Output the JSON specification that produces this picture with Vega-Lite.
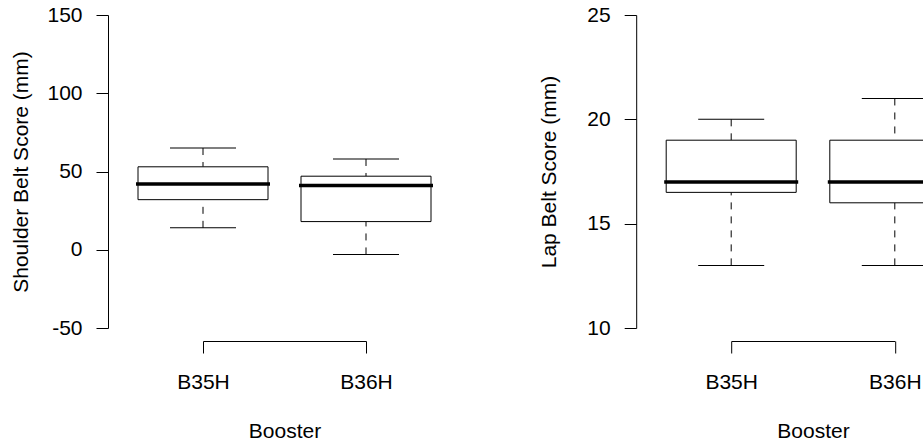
{
  "$schema": "https://vega.github.io/schema/vega-lite/v6.json",
  "padding": {"left": 10, "top": 0, "right": 0, "bottom": 0},
  "bounds": "flush",
  "spacing": 175.2,
  "config": {
    "font": "Liberation Sans",
    "view": {"stroke": null},
    "axis": {
      "grid": false,
      "domainColor": "black",
      "domainWidth": 1,
      "tickColor": "black",
      "tickWidth": 1,
      "tickSize": 12,
      "labelFontSize": 21,
      "titleFontSize": 21,
      "titleFontWeight": "normal",
      "labelColor": "black",
      "titleColor": "black",
      "labelFlush": false,
      "labelOverlap": false
    },
    "axisX": {"labelAngle": 0, "labelPadding": 18, "minExtent": 51, "maxExtent": 51, "titlePadding": 28},
    "axisY": {"labelPadding": 14, "minExtent": 59, "maxExtent": 59, "titlePadding": 18,
              "labelExpr": "replace(datum.label, '\u2212', '-')"}
  },
  "datasets": {
    "shoulder": [
      {"booster": "B35H", "lower": 14, "q1": 32, "median": 42, "q3": 53, "upper": 65},
      {"booster": "B36H", "lower": -3, "q1": 18, "median": 41, "q3": 47, "upper": 58}
    ],
    "lap": [
      {"booster": "B35H", "lower": 13, "q1": 16.5, "median": 17, "q3": 19, "upper": 20},
      {"booster": "B36H", "lower": 13, "q1": 16, "median": 17, "q3": 19, "upper": 21}
    ]
  },
  "hconcat": [
    {
      "width": 352.5,
      "height": 341,
      "data": {"name": "shoulder"},
      "encoding": {
        "x": {"field": "booster", "type": "nominal", "title": "Booster",
              "scale": {"type": "point", "range": [95, 258], "padding": 0}}
      },
      "layer": [
        {"mark": {"type": "rule", "color": "black", "strokeWidth": 1, "strokeDash": [7, 7]},
         "encoding": {
           "y": {"field": "lower", "type": "quantitative", "title": "Shoulder Belt Score (mm)",
                 "scale": {"domain": [-50, 150], "range": [328, 15], "nice": false, "zero": false},
                 "axis": {"values": [-50, 0, 50, 100, 150]}},
           "y2": {"field": "q1"}}},
        {"mark": {"type": "rule", "color": "black", "strokeWidth": 1, "strokeDash": [7, 7]},
         "encoding": {
           "y": {"field": "upper", "type": "quantitative", "title": "Shoulder Belt Score (mm)",
                 "scale": {"domain": [-50, 150], "range": [328, 15], "nice": false, "zero": false}},
           "y2": {"field": "q3"}}},
        {"mark": {"type": "bar", "width": 130, "fill": "white", "stroke": "black", "strokeWidth": 1},
         "encoding": {
           "y": {"field": "q1", "type": "quantitative", "title": "Shoulder Belt Score (mm)",
                 "scale": {"domain": [-50, 150], "range": [328, 15], "nice": false, "zero": false}},
           "y2": {"field": "q3"}}},
        {"mark": {"type": "tick", "size": 134, "thickness": 3.5, "color": "black", "opacity": 1},
         "encoding": {
           "y": {"field": "median", "type": "quantitative", "title": "Shoulder Belt Score (mm)",
                 "scale": {"domain": [-50, 150], "range": [328, 15], "nice": false, "zero": false}}}},
        {"mark": {"type": "tick", "size": 66, "thickness": 1, "color": "black", "opacity": 1},
         "encoding": {
           "y": {"field": "lower", "type": "quantitative", "title": "Shoulder Belt Score (mm)",
                 "scale": {"domain": [-50, 150], "range": [328, 15], "nice": false, "zero": false}}}},
        {"mark": {"type": "tick", "size": 66, "thickness": 1, "color": "black", "opacity": 1},
         "encoding": {
           "y": {"field": "upper", "type": "quantitative", "title": "Shoulder Belt Score (mm)",
                 "scale": {"domain": [-50, 150], "range": [328, 15], "nice": false, "zero": false}}}}
      ]
    },
    {
      "width": 287.3,
      "height": 341,
      "data": {"name": "lap"},
      "encoding": {
        "x": {"field": "booster", "type": "nominal", "title": "Booster",
              "scale": {"type": "point", "range": [95, 258.6], "padding": 0}}
      },
      "layer": [
        {"mark": {"type": "rule", "color": "black", "strokeWidth": 1, "strokeDash": [7, 7], "clip": true},
         "encoding": {
           "y": {"field": "lower", "type": "quantitative", "title": "Lap Belt Score (mm)",
                 "scale": {"domain": [10, 25], "range": [328, 15], "nice": false, "zero": false},
                 "axis": {"values": [10, 15, 20, 25]}},
           "y2": {"field": "q1"}}},
        {"mark": {"type": "rule", "color": "black", "strokeWidth": 1, "strokeDash": [7, 7], "clip": true},
         "encoding": {
           "y": {"field": "upper", "type": "quantitative", "title": "Lap Belt Score (mm)",
                 "scale": {"domain": [10, 25], "range": [328, 15], "nice": false, "zero": false}},
           "y2": {"field": "q3"}}},
        {"mark": {"type": "bar", "width": 130, "fill": "white", "stroke": "black", "strokeWidth": 1, "clip": true},
         "encoding": {
           "y": {"field": "q1", "type": "quantitative", "title": "Lap Belt Score (mm)",
                 "scale": {"domain": [10, 25], "range": [328, 15], "nice": false, "zero": false}},
           "y2": {"field": "q3"}}},
        {"mark": {"type": "tick", "size": 134, "thickness": 3.5, "color": "black", "opacity": 1, "clip": true},
         "encoding": {
           "y": {"field": "median", "type": "quantitative", "title": "Lap Belt Score (mm)",
                 "scale": {"domain": [10, 25], "range": [328, 15], "nice": false, "zero": false}}}},
        {"mark": {"type": "tick", "size": 66, "thickness": 1, "color": "black", "opacity": 1, "clip": true},
         "encoding": {
           "y": {"field": "lower", "type": "quantitative", "title": "Lap Belt Score (mm)",
                 "scale": {"domain": [10, 25], "range": [328, 15], "nice": false, "zero": false}}}},
        {"mark": {"type": "tick", "size": 66, "thickness": 1, "color": "black", "opacity": 1, "clip": true},
         "encoding": {
           "y": {"field": "upper", "type": "quantitative", "title": "Lap Belt Score (mm)",
                 "scale": {"domain": [10, 25], "range": [328, 15], "nice": false, "zero": false}}}}
      ]
    }
  ]
}
